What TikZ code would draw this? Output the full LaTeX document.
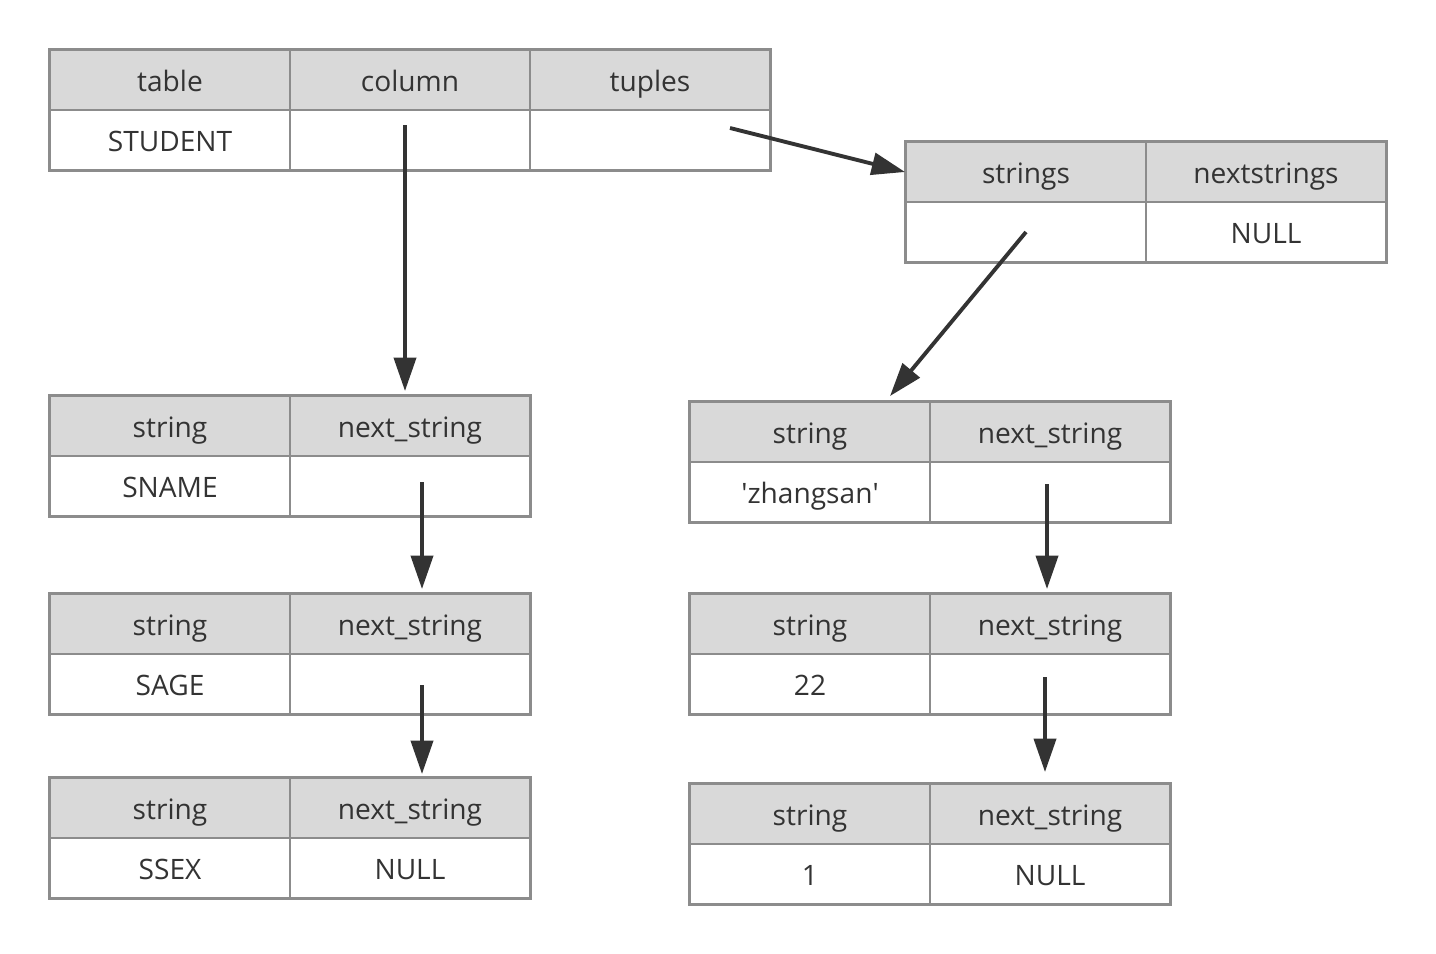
\documentclass[tikz,border=0pt]{standalone}
\usepackage{fontspec}
\setmainfont{Open Sans}
\usetikzlibrary{arrows.meta,calc}
\definecolor{framegray}{HTML}{8C8C8C}
\definecolor{hdgray}{HTML}{D9D9D9}
\definecolor{ink}{HTML}{333333}
\tikzset{>={Triangle[length=19pt,width=12.5pt]}}

\begin{document}
\begin{tikzpicture}[x=0.02cm,y=-0.02cm]
\tikzstyle{cell} = [rectangle,draw=framegray,line width=1.1pt,minimum width=4.8cm,minimum height=1.2cm,inner sep=0pt,text height=16pt,text depth=3.4pt,text=ink,font=\fontsize{16}{19}\selectfont]
\tikzstyle{hd} = [cell,fill=hdgray]
\tikzstyle{frame} = [draw=framegray,line width=1.7pt]
\tikzstyle{link} = [->,draw=ink,line width=2.2pt]
\useasboundingbox (0,0) rectangle (1436,953);
% table / column / tuples
\node[hd] (t1h1) at (170,80) {table};
\node[hd] (t1h2) at (410,80) {column};
\node[hd] (t1h3) at (650,80) {tuples};
\node[cell] (t1d1) at (170,140) {STUDENT};
\node[cell] (t1d2) at (410,140) {};
\node[cell] (t1d3) at (650,140) {};
\draw[frame] (t1h1.north west) rectangle (t1d3.south east);
% strings / nextstrings
\node[hd] (t2h1) at (1026,172) {strings};
\node[hd] (t2h2) at (1266,172) {nextstrings};
\node[cell] (t2d1) at (1026,232) {};
\node[cell] (t2d2) at (1266,232) {NULL};
\draw[frame] (t2h1.north west) rectangle (t2d2.south east);
% column list
\node[hd] (t3h1) at (170,426) {string};
\node[hd] (t3h2) at (410,426) {next\_string};
\node[cell] (t3d1) at (170,486) {SNAME};
\node[cell] (t3d2) at (410,486) {};
\draw[frame] (t3h1.north west) rectangle (t3d2.south east);
\node[hd] (t4h1) at (170,624) {string};
\node[hd] (t4h2) at (410,624) {next\_string};
\node[cell] (t4d1) at (170,684) {SAGE};
\node[cell] (t4d2) at (410,684) {};
\draw[frame] (t4h1.north west) rectangle (t4d2.south east);
\node[hd] (t5h1) at (170,808) {string};
\node[hd] (t5h2) at (410,808) {next\_string};
\node[cell] (t5d1) at (170,868) {SSEX};
\node[cell] (t5d2) at (410,868) {NULL};
\draw[frame] (t5h1.north west) rectangle (t5d2.south east);
% tuple values
\node[hd] (t6h1) at (810,432) {string};
\node[hd] (t6h2) at (1050,432) {next\_string};
\node[cell] (t6d1) at (810,492) {\textquotesingle zhangsan\textquotesingle};
\node[cell] (t6d2) at (1050,492) {};
\draw[frame] (t6h1.north west) rectangle (t6d2.south east);
\node[hd] (t7h1) at (810,624) {string};
\node[hd] (t7h2) at (1050,624) {next\_string};
\node[cell] (t7d1) at (810,684) {22};
\node[cell] (t7d2) at (1050,684) {};
\draw[frame] (t7h1.north west) rectangle (t7d2.south east);
\node[hd] (t8h1) at (810,814) {string};
\node[hd] (t8h2) at (1050,814) {next\_string};
\node[cell] (t8d1) at (810,874) {1};
\node[cell] (t8d2) at (1050,874) {NULL};
\draw[frame] (t8h1.north west) rectangle (t8d2.south east);
% pointers
\draw[link] ($(t1d2.center)+(-5,-15)$) -- ($(t3h2.north)+(-5,-4)$);
\draw[link] ($(t1d3.center)+(80,-12)$) -- (t2h1.west);
\draw[link] (t2d1.center) -- ($(t6h1.north)+(80,-5)$);
\draw[link] ($(t3d2.center)+(12,-4)$) -- ($(t4h2.north)+(12,-4)$);
\draw[link] ($(t4d2.center)+(12,1)$) -- ($(t5h2.north)+(12,-3)$);
\draw[link] ($(t6d2.center)+(-3,-8)$) -- ($(t7h2.north)+(-3,-4)$);
\draw[link] ($(t7d2.center)+(-5,-7)$) -- ($(t8h2.north)+(-5,-11)$);
\end{tikzpicture}
\end{document}
